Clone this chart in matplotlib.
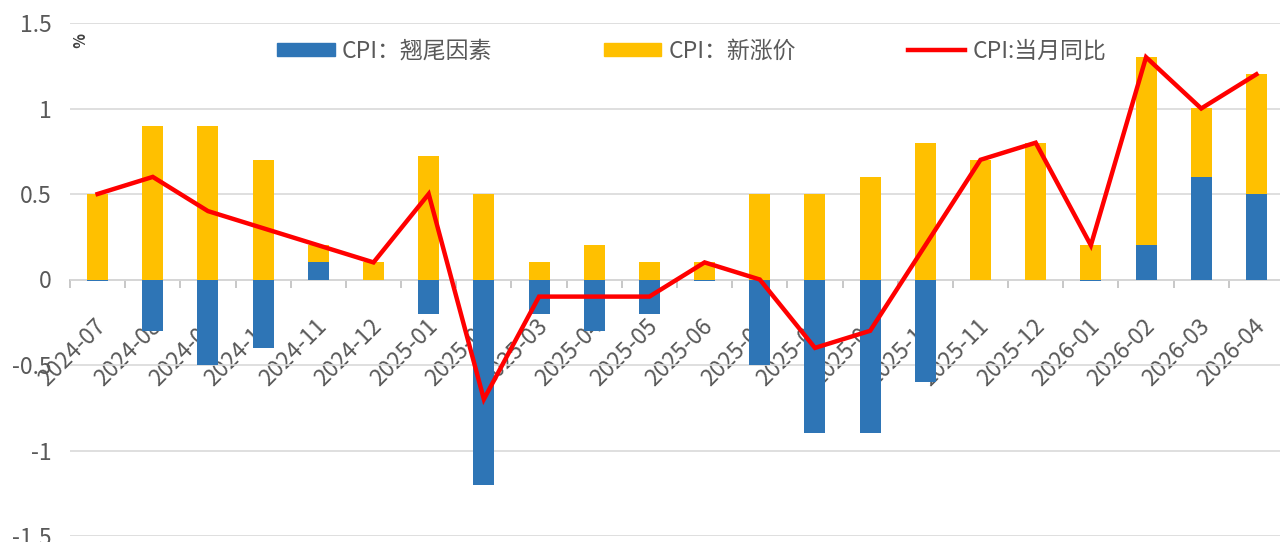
import numpy as np
import matplotlib.pyplot as plt
from matplotlib.patches import Patch
from matplotlib.lines import Line2D
from matplotlib.transforms import ScaledTranslation

plt.rcParams['font.family'] = ['Noto Sans CJK SC', 'DejaVu Sans']

months = ['2024-07', '2024-08', '2024-09', '2024-10', '2024-11', '2024-12',
          '2025-01', '2025-02', '2025-03', '2025-04', '2025-05', '2025-06',
          '2025-07', '2025-08', '2025-09', '2025-10', '2025-11', '2025-12',
          '2026-01', '2026-02', '2026-03', '2026-04']
carryover = [-0.01, -0.3, -0.5, -0.4, 0.1, 0.0, -0.2, -1.2, -0.2, -0.3, -0.2, -0.01,
             -0.5, -0.9, -0.9, -0.6, 0.0, 0.0, -0.01, 0.2, 0.6, 0.5]
new_price = [0.5, 0.9, 0.9, 0.7, 0.1, 0.1, 0.72, 0.5, 0.1, 0.2, 0.1, 0.1,
             0.5, 0.5, 0.6, 0.8, 0.7, 0.8, 0.2, 1.1, 0.4, 0.7]
cpi_yoy = [0.5, 0.6, 0.4, 0.3, 0.2, 0.1, 0.5, -0.7, -0.1, -0.1, -0.1, 0.1,
           0.0, -0.4, -0.3, 0.2, 0.7, 0.8, 0.2, 1.3, 1.0, 1.2]

blue = '#2E75B6'
yellow = '#FFC000'
red = '#FF0000'
grid_c = '#D9D9D9'
text_c = '#595959'

fig = plt.figure(figsize=(12.8, 5.42), dpi=100)
ax = fig.add_axes([70 / 1280, 6 / 542, 1214 / 1280, 513 / 542])

x = np.arange(len(months))
carry = np.array(carryover)
newp = np.array(new_price)
# yellow stacks on top of positive blue, otherwise starts at zero
base = np.where(carry > 0, carry, 0)
ax.bar(x, carry, width=0.38, color=blue, zorder=2)
ax.bar(x, newp, width=0.38, bottom=base, color=yellow, zorder=2)
ax.plot(x, cpi_yoy, color=red, linewidth=3.2, zorder=3, solid_joinstyle='miter')

ax.set_xlim(-0.5, len(months) - 0.5)
ax.set_ylim(-1.5, 1.5)
ax.set_yticks([-1.5, -1, -0.5, 0, 0.5, 1, 1.5])
ax.set_yticklabels(['-1.5', '-1', '-0.5', '0', '0.5', '1', '1.5'])
ax.yaxis.grid(True, color=grid_c, linewidth=1.2, zorder=0)
ax.tick_params(axis='y', length=0, pad=13, labelsize=16.5, labelcolor=text_c)

for s in ['top', 'right', 'left']:
    ax.spines[s].set_visible(False)
ax.spines['bottom'].set_position(('data', 0))
ax.spines['bottom'].set_color('#BFBFBF')
ax.spines['bottom'].set_linewidth(1.2)
ax.spines['bottom'].set_zorder(1)

ax.set_xticks(x)
ax.set_xticklabels(months, rotation=45, ha='right', va='center',
                   rotation_mode='anchor')
ax.set_xticks(np.arange(-0.5, len(months), 1), minor=True)
ax.tick_params(axis='x', which='major', length=0, pad=31, labelsize=16.5,
               labelcolor=text_c)
ax.tick_params(axis='x', which='minor', length=6, color='#BFBFBF', width=1.2)
shift = ScaledTranslation(5 / 100, 0, fig.dpi_scale_trans)
for lab in ax.get_xticklabels():
    lab.set_transform(lab.get_transform() + shift)

fig.text(76 / 1280, 1 - 40 / 542, '%', rotation=-90, fontsize=11,
         fontweight='bold', color='#404040', ha='center', va='center')

handles = [Patch(color=blue), Patch(color=yellow),
           Line2D([], [], color=red, linewidth=3.2)]
labels = ['CPI：翘尾因素', 'CPI：新涨价', 'CPI:当月同比']
ax.legend(handles, labels, loc='center', bbox_to_anchor=(0.512, 0.945), ncol=3,
          frameon=False, fontsize=16.5, labelcolor=text_c, handlelength=2.5,
          handleheight=0.5, handletextpad=0.3, columnspacing=4.9)

fig.savefig('out.png', dpi=100)
